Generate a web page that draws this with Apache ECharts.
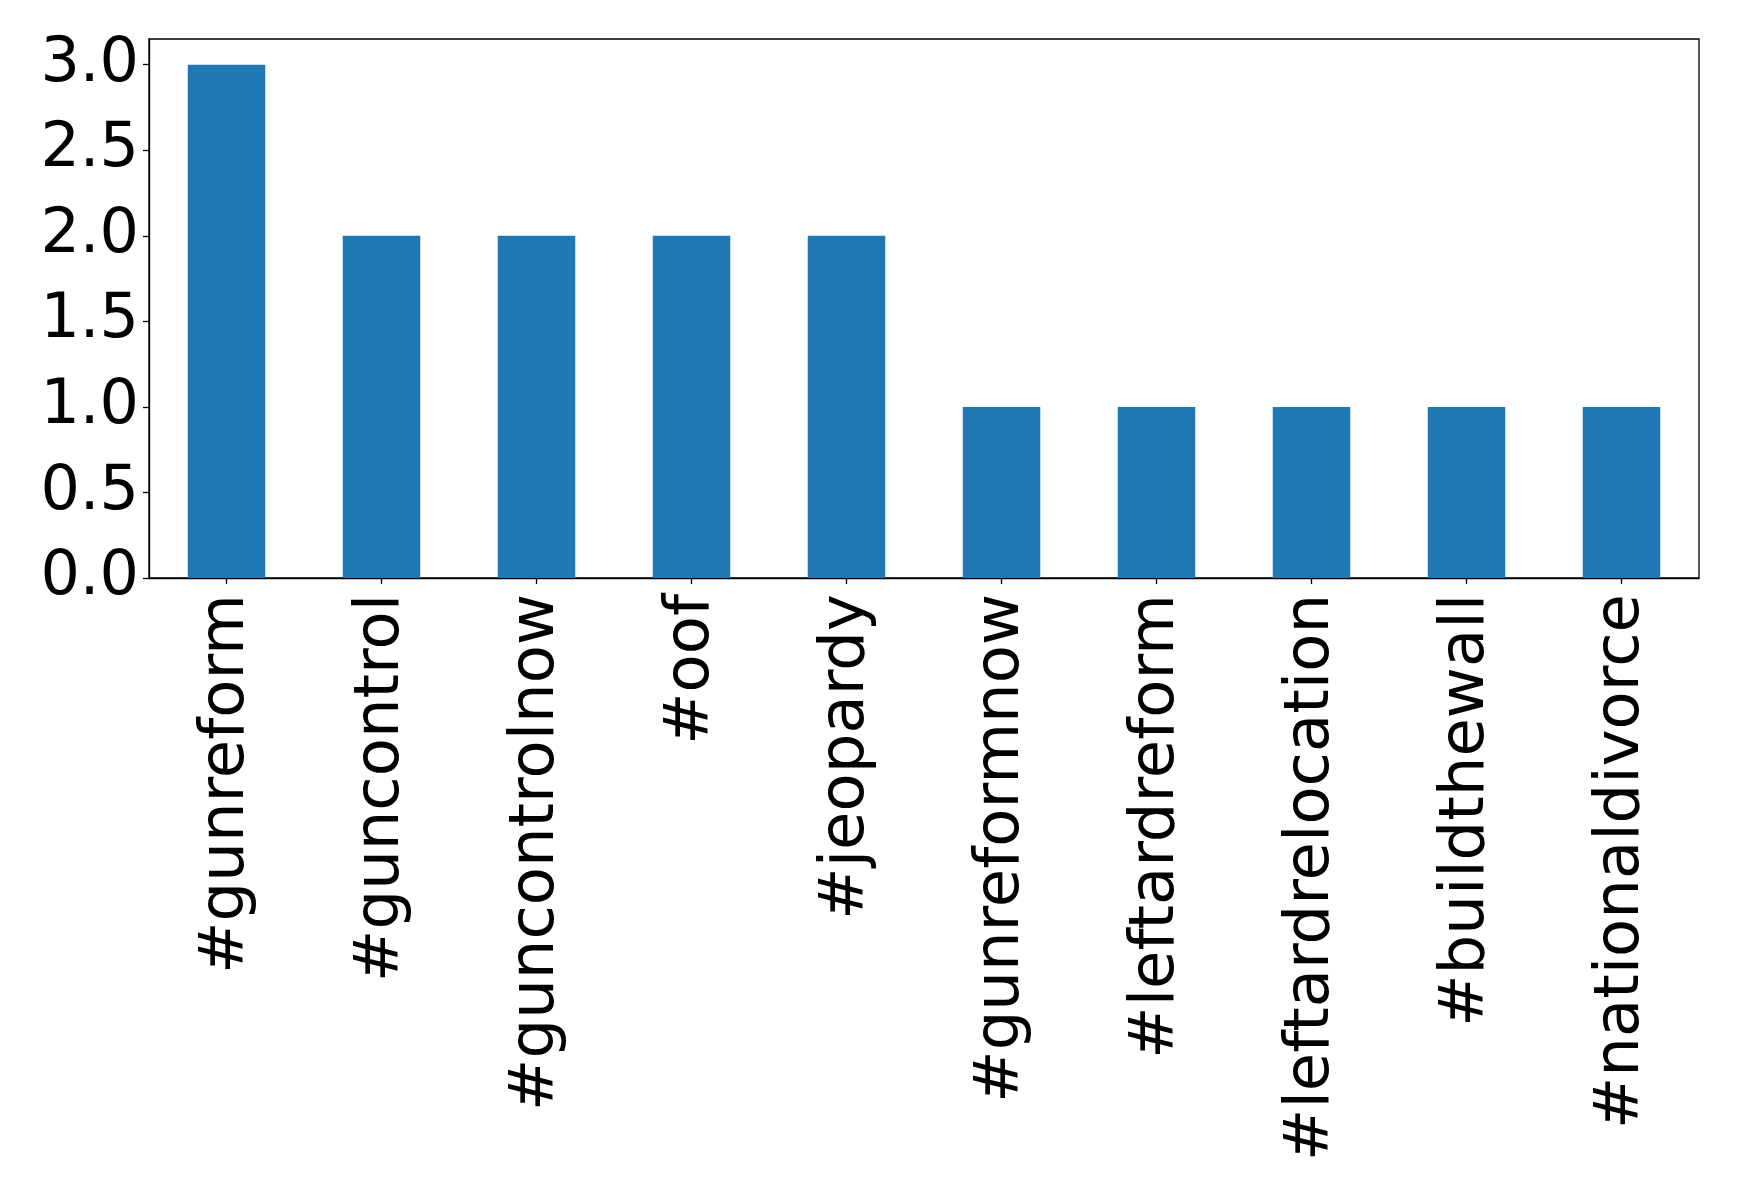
<!DOCTYPE html>
<html>
<head>
<meta charset="utf-8">
<script src="https://cdn.jsdelivr.net/npm/echarts@6/dist/echarts.min.js"></script>
<style>html,body{margin:0;padding:0;background:#fff;}#c{width:1739px;height:1195px;}</style>
</head>
<body>
<div id="c"></div>
<script>
const categories = ['#gunreform','#guncontrol','#guncontrolnow','#oof','#jeopardy','#gunreformnow','#leftardreform','#leftardrelocation','#buildthewall','#nationaldivorce'];
const counts = [3, 2, 2, 2, 2, 1, 1, 1, 1, 1];
const yTicks = [0, 0.5, 1.0, 1.5, 2.0, 2.5, 3.0];

const chart = echarts.init(document.getElementById('c'), null, {renderer: 'canvas'});
const font = 'DejaVu Sans';
chart.setOption({
  animation: false,
  backgroundColor: '#fff',
  grid: {left: 149, right: 40, top: 39, bottom: 617, show: true, borderColor: '#000', borderWidth: 1.3, containLabel: false},
  xAxis: {
    type: 'category',
    data: categories,
    axisLine: {show: true, lineStyle: {color: '#000', width: 1.3}},
    axisTick: {show: true, alignWithLabel: true, length: 6, lineStyle: {color: '#000', width: 1.3}},
    axisLabel: {rotate: 90, margin: 16, fontFamily: font, fontSize: 62.5, color: '#000', interval: 0, padding: [8, 0, 0, 0]},
    splitLine: {show: false}
  },
  yAxis: {
    type: 'value',
    min: 0,
    max: 3.15,
    interval: 0.5,
    axisLine: {show: true, lineStyle: {color: '#000', width: 1.3}},
    axisTick: {show: true, length: 6, lineStyle: {color: '#000', width: 1.3}},
    axisLabel: {
      margin: 10, fontFamily: font, fontSize: 62, color: '#000', showMaxLabel: false,
      formatter: function (v) { return yTicks.some(t => Math.abs(t - v) < 1e-9) ? v.toFixed(1) : ''; }
    },
    splitLine: {show: false}
  },
  series: [{
    type: 'bar',
    data: counts,
    barWidth: '50%',
    itemStyle: {color: '#1f77b4'}
  }]
});
</script>
</body>
</html>
